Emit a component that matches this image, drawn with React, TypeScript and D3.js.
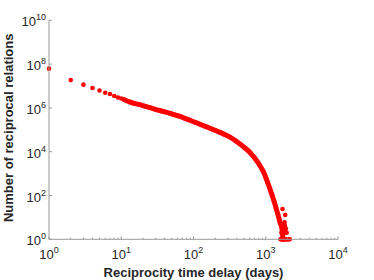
import React from "react";
import * as d3 from "d3";

// Reciprocity time delay (days) and number of reciprocal relations
const days: number[] = [
  1, 2, 3, 4, 5, 6, 7, 8, 9, 10, 11, 13, 15, 18, 21, 25, 29, 34, 40, 47, 55, 65, 76, 89,
  105, 123, 144, 169, 198, 233, 273, 320, 375, 440, 516, 605, 710, 832, 887, 946, 1007,
  1074, 1145, 1221, 1301, 1387, 1479, 1575, 1679, 1730,
];
const relations: number[] = [
  6.2e7, 1.86e7, 1.15e7, 8.1e6, 6.2e6, 4.9e6, 4.3e6, 3.5e6, 3.0e6, 2.69e6, 2.37e6, 1.9e6,
  1.62e6, 1.4e6, 1.2e6, 1.02e6, 8.8e5, 7.6e5, 6.6e5, 5.7e5, 4.8e5, 4.13e5, 3.32e5, 2.72e5,
  2.21e5, 1.79e5, 1.45e5, 1.18e5, 9.5e4, 7.65e4, 6.0e4, 4.6e4, 3.3e4, 2.25e4, 1.48e4, 9.2e3,
  4.9e3, 2.3e3, 1.6e3, 1.06e3, 630, 353, 198, 105, 56, 27, 13, 6, 3, 1,
];
// scattered tail of the distribution
const tailDays: number[] = [
  1600, 1650, 1700, 1750, 1800, 1850, 1900, 1950, 2000, 2050, 2100, 2150,
  1650, 1750, 1850, 1950, 1700, 1800, 1900, 1750, 1850, 1800, 1706, 1819, 1860,
];
const tailRelations: number[] = [
  1, 1, 1, 1, 1, 1, 1, 1, 1, 1, 1, 1,
  2, 2, 2, 2, 3, 3, 3, 4, 4, 5, 24, 6, 13,
];

const xTicks: number[] = [1, 10, 100, 1000, 10000];
const xTickExp: string[] = ["0", "1", "2", "3", "4"];
const yTicks: number[] = [1, 1e2, 1e4, 1e6, 1e8, 1e10];
const yTickExp: string[] = ["0", "2", "4", "6", "8", "10"];

const xTitle = "Reciprocity time delay (days)";
const yTitle = "Number of reciprocal relations";

export default function App() {
  const W = 374;
  const H = 280;
  const x = d3.scaleLog().domain([1, 1e4]).range([49, 338]);
  const y = d3.scaleLog().domain([1, 1e10]).range([239.3, 20.3]);
  const axisColor = "#9a9a9a";
  const textColor = "#262626";
  const font = "'Liberation Sans', Arial, Helvetica, sans-serif";

  const main = days.map((d, i) => ({ d, v: relations[i] }));
  const tail = tailDays.map((d, i) => ({ d, v: tailRelations[i] }));
  const band = main.filter((p) => p.d >= 11);
  const line = d3
    .line<{ d: number; v: number }>()
    .x((p) => x(p.d))
    .y((p) => y(p.v))
    .curve(d3.curveMonotoneX);

  const minor: number[] = [];
  for (let e = 0; e < 4; e++) {
    for (let k = 2; k <= 9; k++) minor.push(k * Math.pow(10, e));
  }

  const x0 = x.range()[0];
  const x1 = x.range()[1];
  const y0 = y.range()[0];
  const y1 = y.range()[1];

  return (
    <svg
      width={W}
      height={H}
      style={{ position: "absolute", left: 0, top: 0, background: "#fff" }}
      fontFamily={font}
    >
      {/* data */}
      <path
        d={line(band) || ""}
        fill="none"
        stroke="#ff0000"
        strokeWidth={5}
        strokeLinejoin="round"
        strokeLinecap="round"
      />
      {main.concat(tail).map((p, i) => (
        <circle key={i} cx={x(p.d)} cy={y(p.v)} r={2.3} fill="#ff0000" />
      ))}

      {/* axes */}
      <line x1={x0} y1={y0} x2={x1} y2={y0} stroke={axisColor} strokeWidth={1} />
      <line x1={x0} y1={y0} x2={x0} y2={y1} stroke={axisColor} strokeWidth={1} />
      {xTicks.map((t, i) => (
        <line key={"xt" + i} x1={x(t)} x2={x(t)} y1={y0} y2={y0 - 3} stroke={axisColor} />
      ))}
      {minor.map((t, i) => (
        <line key={"xm" + i} x1={x(t)} x2={x(t)} y1={y0} y2={y0 - 1.6} stroke={axisColor} />
      ))}
      {yTicks.map((t, i) => (
        <line key={"yt" + i} x1={x0} x2={x0 + 3} y1={y(t)} y2={y(t)} stroke={axisColor} />
      ))}

      {/* tick labels */}
      {xTicks.map((t, i) => (
        <text key={"xl" + i} x={x(t)} y={259} textAnchor="middle" fill={textColor} fontSize={13}>
          <tspan>10</tspan>
          <tspan fontSize={9} dy={-6}>
            {xTickExp[i]}
          </tspan>
        </text>
      ))}
      {yTicks.map((t, i) => (
        <text key={"yl" + i} x={46} y={y(t) + 6} textAnchor="end" fill={textColor} fontSize={13}>
          <tspan>10</tspan>
          <tspan fontSize={9} dy={-6}>
            {yTickExp[i]}
          </tspan>
        </text>
      ))}

      {/* titles */}
      <text
        x={(x0 + x1) / 2}
        y={276.5}
        textAnchor="middle"
        fontWeight="bold"
        fontSize={13}
        fill={textColor}
      >
        {xTitle}
      </text>
      <text
        transform={`translate(13,${(y0 + y1) / 2 - 2}) rotate(-90)`}
        textAnchor="middle"
        fontWeight="bold"
        fontSize={13}
        fill={textColor}
      >
        {yTitle}
      </text>
    </svg>
  );
}
